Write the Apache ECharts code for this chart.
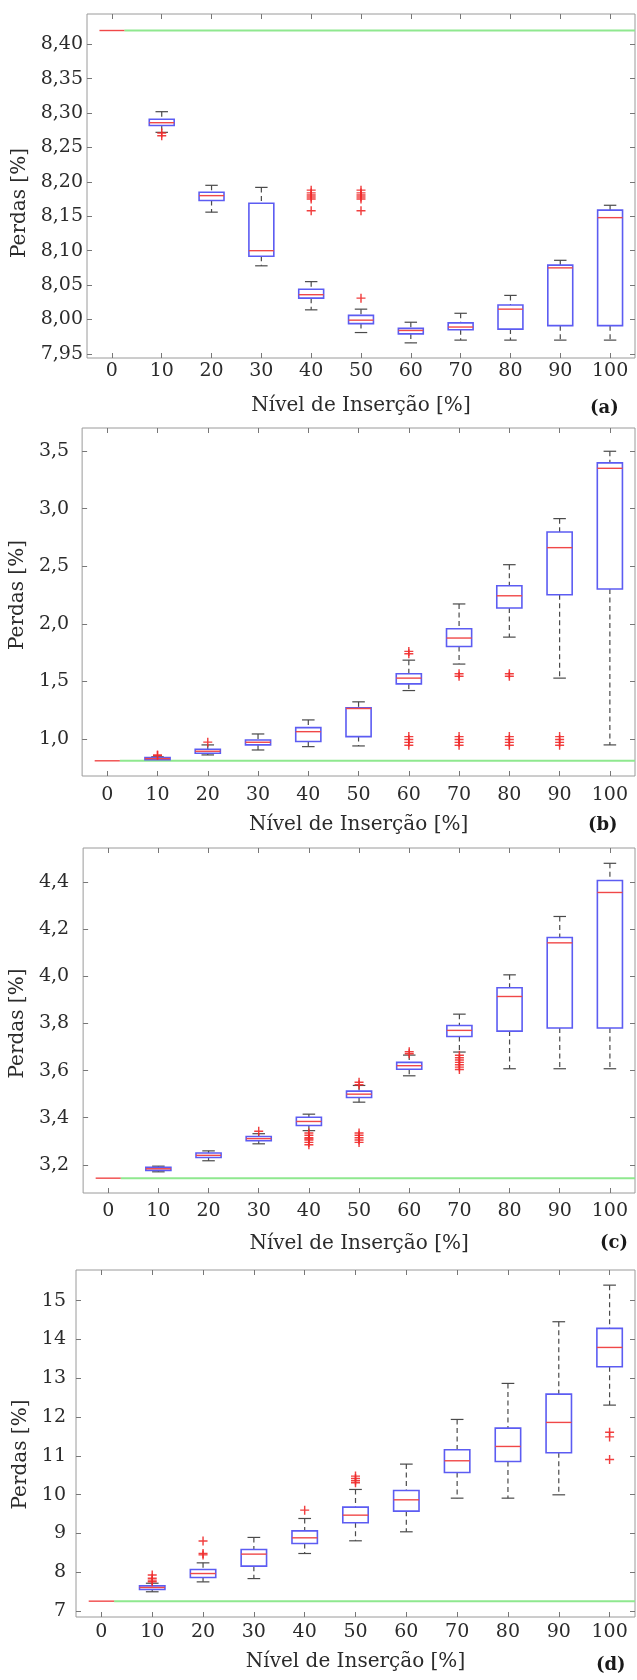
<!DOCTYPE html>
<html>
<head>
<meta charset="utf-8">
<script src="https://cdn.jsdelivr.net/npm/echarts@6/dist/echarts.min.js"></script>
<style>
  html, body { margin: 0; padding: 0; background: #fff; }
  #main { width: 637px; height: 1680px; }
</style>
</head>
<body>
<div id="main"></div>
<script>
// Nivel de insercao (eixo x, comum aos 4 graficos)
const categories = ['0', '10', '20', '30', '40', '50', '60', '70', '80', '90', '100'];

// (a)
const lowA  = [8.420, 8.272, 8.156, 8.078, 8.014, 7.981, 7.966, 7.970, 7.970, 7.970, 7.970];
const q1A   = [8.420, 8.282, 8.173, 8.092, 8.031, 7.994, 7.979, 7.985, 7.986, 7.991, 7.991];
const medA  = [8.420, 8.286, 8.180, 8.100, 8.036, 7.999, 7.984, 7.989, 8.015, 8.075, 8.148];
const q3A   = [8.420, 8.291, 8.185, 8.169, 8.044, 8.006, 7.987, 7.995, 8.021, 8.079, 8.159];
const highA = [8.420, 8.302, 8.195, 8.192, 8.055, 8.015, 7.996, 8.009, 8.035, 8.086, 8.166];
const outA  = [[1, 8.271], [1, 8.267], [4, 8.188], [4, 8.184], [4, 8.181], [4, 8.178], [4, 8.175], [4, 8.158],
               [5, 8.188], [5, 8.184], [5, 8.181], [5, 8.178], [5, 8.175], [5, 8.158], [5, 8.031]];
const baseA = 8.42;

// (b)
const lowB  = [0.810, 0.817, 0.861, 0.904, 0.933, 0.939, 1.420, 1.650, 1.884, 1.528, 0.948];
const q1B   = [0.810, 0.820, 0.876, 0.948, 0.977, 1.020, 1.478, 1.803, 2.137, 2.252, 2.302];
const medB  = [0.810, 0.829, 0.893, 0.971, 1.063, 1.264, 1.528, 1.876, 2.243, 2.661, 3.350];
const q3B   = [0.810, 0.838, 0.910, 0.991, 1.098, 1.270, 1.566, 1.957, 2.330, 2.797, 3.397];
const highB = [0.810, 0.845, 0.948, 1.043, 1.165, 1.322, 1.684, 2.172, 2.513, 2.913, 3.498];
const outB  = [[1, 0.855], [1, 0.861], [2, 0.972],
               [6, 1.760], [6, 1.740], [6, 1.020], [6, 0.995], [6, 0.970], [6, 0.945],
               [7, 1.566], [7, 1.545], [7, 1.020], [7, 0.995], [7, 0.970], [7, 0.945],
               [8, 1.566], [8, 1.545], [8, 1.020], [8, 0.995], [8, 0.970], [8, 0.945],
               [9, 1.020], [9, 0.995], [9, 0.970], [9, 0.945]];
const baseB = 0.81;

// (c)
const lowC  = [3.143, 3.170, 3.217, 3.289, 3.345, 3.466, 3.578, 3.679, 3.608, 3.608, 3.608];
const q1C   = [3.143, 3.176, 3.231, 3.302, 3.367, 3.486, 3.606, 3.745, 3.768, 3.781, 3.781];
const medC  = [3.143, 3.183, 3.240, 3.311, 3.384, 3.500, 3.621, 3.771, 3.915, 4.143, 4.357];
const q3C   = [3.143, 3.189, 3.250, 3.320, 3.402, 3.513, 3.635, 3.792, 3.952, 4.166, 4.408];
const highC = [3.143, 3.194, 3.259, 3.332, 3.415, 3.537, 3.666, 3.840, 4.007, 4.255, 4.481];
const outC  = [[3, 3.342], [4, 3.335], [4, 3.325], [4, 3.315], [4, 3.310], [4, 3.305], [4, 3.295], [4, 3.285],
               [5, 3.551], [5, 3.540], [5, 3.335], [5, 3.325], [5, 3.315], [5, 3.305], [5, 3.295],
               [6, 3.680], [6, 3.672],
               [7, 3.665], [7, 3.655], [7, 3.645], [7, 3.635], [7, 3.625], [7, 3.615], [7, 3.605]];
const baseC = 3.143;

// (d)
const lowD  = [7.258, 7.500, 7.755, 7.840, 8.486, 8.813, 9.045, 9.912, 9.912, 9.998, 12.309];
const q1D   = [7.258, 7.559, 7.869, 8.160, 8.744, 9.277, 9.577, 10.574, 10.857, 11.081, 13.297];
const medD  = [7.258, 7.610, 7.970, 8.470, 8.890, 9.474, 9.869, 10.875, 11.244, 11.863, 13.795];
const q3D   = [7.258, 7.652, 8.075, 8.590, 9.070, 9.680, 10.110, 11.158, 11.717, 12.593, 14.285];
const highD = [7.258, 7.720, 8.245, 8.900, 9.388, 10.136, 10.789, 11.940, 12.868, 14.457, 15.400];
const outD  = [[1, 7.930], [1, 7.850], [1, 7.800], [1, 7.760], [2, 8.810], [2, 8.487], [2, 8.450],
               [4, 9.603], [5, 10.480], [5, 10.420], [5, 10.360], [5, 10.310],
               [10, 11.610], [10, 11.490], [10, 10.910]];
const baseD = 7.258;

// ticks do eixo y de cada grafico
const ticksA = [7.95, 8.00, 8.05, 8.10, 8.15, 8.20, 8.25, 8.30, 8.35, 8.40];
const ticksB = [1.0, 1.5, 2.0, 2.5, 3.0, 3.5];
const ticksC = [3.2, 3.4, 3.6, 3.8, 4.0, 4.2, 4.4];
const ticksD = [7, 8, 9, 10, 11, 12, 13, 14, 15];

const panels = [
  { tag: '(a)', low: lowA, q1: q1A, med: medA, q3: q3A, high: highA, out: outA, base: baseA, ticks: ticksA,
    dec: 2, min: 7.944, max: 8.444, left: 87, top: 14, height: 344,
    yMargin: 4, xMargin: 4, yGap: 50, yPad: [0, 34, 0, 0], xGap: 38, tagX: 590, tagY: 410 },
  { tag: '(b)', low: lowB, q1: q1B, med: medB, q3: q3B, high: highB, out: outB, base: baseB, ticks: ticksB,
    dec: 1, min: 0.678, max: 3.70, left: 81, top: 428, height: 348,
    yMargin: 13, xMargin: 10, yGap: 42, yPad: [0, 0, 0, 14], xGap: 39, tagX: 588, tagY: 827 },
  { tag: '(c)', low: lowC, q1: q1C, med: medC, q3: q3C, high: highC, out: outC, base: baseC, ticks: ticksC,
    dec: 1, min: 3.080, max: 4.546, left: 80, top: 848, height: 345,
    yMargin: 14, xMargin: 9, yGap: 43, yPad: [0, 6, 0, 0], xGap: 41, tagX: 600, tagY: 1245 },
  { tag: '(d)', low: lowD, q1: q1D, med: medD, q3: q3D, high: highD, out: outD, base: baseD, ticks: ticksD,
    dec: 0, min: 6.85, max: 15.79, left: 76, top: 1270, height: 347,
    yMargin: 10, xMargin: 6, yGap: 40, yPad: [0, 22, 0, 0], xGap: 35, tagX: 596, tagY: 1667 }
];

const FONT = 'DejaVu Serif';
const TXT = '#2b2b2b';
const FRAME = '#9a9a9a';

function fmt(dec) {
  return function (v) { return Number(v).toFixed(dec).replace('.', ','); };
}

function renderBox(params, api) {
  const x = api.value(0);
  const lo = api.coord([x, api.value(1)]);
  const q1 = api.coord([x, api.value(2)]);
  const md = api.coord([x, api.value(3)]);
  const q3 = api.coord([x, api.value(4)]);
  const hi = api.coord([x, api.value(5)]);
  const w = api.size([1, 0])[0] * 0.5;
  const cx = md[0];
  const cap = w * 0.25;
  const kids = [];
  const whisk = { stroke: '#4a4a4a', lineWidth: 1.2, lineDash: [5, 3.5] };
  const capSt = { stroke: '#4a4a4a', lineWidth: 1.2 };
  if (hi[1] < q3[1] - 0.5) {
    kids.push({ type: 'line', shape: { x1: cx, y1: hi[1], x2: cx, y2: q3[1] }, style: whisk });
    kids.push({ type: 'line', shape: { x1: cx - cap, y1: hi[1], x2: cx + cap, y2: hi[1] }, style: capSt });
  }
  if (lo[1] > q1[1] + 0.5) {
    kids.push({ type: 'line', shape: { x1: cx, y1: q1[1], x2: cx, y2: lo[1] }, style: whisk });
    kids.push({ type: 'line', shape: { x1: cx - cap, y1: lo[1], x2: cx + cap, y2: lo[1] }, style: capSt });
  }
  if (q1[1] - q3[1] > 0.1) {
    kids.push({ type: 'rect', shape: { x: cx - w / 2, y: q3[1], width: w, height: q1[1] - q3[1] },
      style: { fill: 'none', stroke: '#5c5cf2', lineWidth: 1.6 } });
  }
  kids.push({ type: 'line', shape: { x1: cx - w / 2, y1: md[1], x2: cx + w / 2, y2: md[1] },
    style: { stroke: '#f04848', lineWidth: 1.4 } });
  return { type: 'group', children: kids };
}

const grid = [], xAxis = [], yAxis = [], series = [], graphic = [];

panels.forEach(function (p, i) {
  grid.push({ left: p.left, right: 2, top: p.top, height: p.height, show: true,
    borderColor: FRAME, borderWidth: 1, backgroundColor: 'transparent' });

  const tick = { show: true, inside: true, length: 5, alignWithLabel: true, lineStyle: { color: '#777' } };
  xAxis.push({
    type: 'category', gridIndex: i, data: categories, position: 'bottom',
    axisLine: { show: false, onZero: false }, axisTick: tick,
    axisLabel: { fontFamily: FONT, fontSize: 19, color: TXT, margin: p.xMargin },
    name: 'Nível de Inserção [%]', nameLocation: 'middle', nameGap: p.xGap,
    nameTextStyle: { fontFamily: FONT, fontSize: 20, color: TXT }
  });
  xAxis.push({
    type: 'category', gridIndex: i, data: categories, position: 'top',
    axisLine: { show: false, onZero: false }, axisTick: tick, axisLabel: { show: false }
  });
  xAxis.push({ type: 'value', gridIndex: i, min: -5, max: 105, show: false,
    axisLine: { onZero: false } });

  const ytick = { show: true, inside: true, length: 5, customValues: p.ticks, lineStyle: { color: '#777' } };
  yAxis.push({
    type: 'value', gridIndex: i, min: p.min, max: p.max, position: 'left',
    splitLine: { show: false }, axisLine: { show: false, onZero: false }, axisTick: ytick,
    axisLabel: { customValues: p.ticks, formatter: fmt(p.dec), fontFamily: FONT, fontSize: 19,
      color: TXT, margin: p.yMargin },
    name: 'Perdas [%]', nameLocation: 'middle', nameGap: p.yGap,
    nameTextStyle: { fontFamily: FONT, fontSize: 20, color: TXT, padding: p.yPad }
  });
  yAxis.push({
    type: 'value', gridIndex: i, min: p.min, max: p.max, position: 'right',
    splitLine: { show: false }, axisLine: { show: false, onZero: false }, axisTick: ytick,
    axisLabel: { show: false }
  });

  // linha de referencia (caso base)
  series.push({
    type: 'line', xAxisIndex: 3 * i + 2, yAxisIndex: 2 * i, z: 1,
    data: [[2.5, p.base], [105, p.base]], symbol: 'none', silent: true,
    lineStyle: { color: '#8fe88f', width: 2 }
  });

  const boxData = categories.map(function (c, k) {
    return [k, p.low[k], p.q1[k], p.med[k], p.q3[k], p.high[k]];
  });
  series.push({
    type: 'custom', xAxisIndex: 3 * i, yAxisIndex: 2 * i, z: 3,
    renderItem: renderBox, data: boxData, clip: false
  });

  series.push({
    type: 'scatter', xAxisIndex: 3 * i, yAxisIndex: 2 * i, z: 4,
    data: p.out, symbol: 'path://M4.2,0H5.8V4.2H10V5.8H5.8V10H4.2V5.8H0V4.2H4.2Z', symbolSize: 9,
    itemStyle: { color: '#f02a2a', opacity: 0.9 }
  });

  graphic.push({
    type: 'text', left: p.tagX, top: p.tagY - 11,
    style: { text: p.tag, fontFamily: FONT, fontSize: 18, fontWeight: 'bold', fill: '#1a1a1a' }
  });
});

const chart = echarts.init(document.getElementById('main'));
chart.setOption({
  animation: false,
  backgroundColor: '#fff',
  grid: grid,
  xAxis: xAxis,
  yAxis: yAxis,
  series: series,
  graphic: graphic
});
</script>
</body>
</html>
